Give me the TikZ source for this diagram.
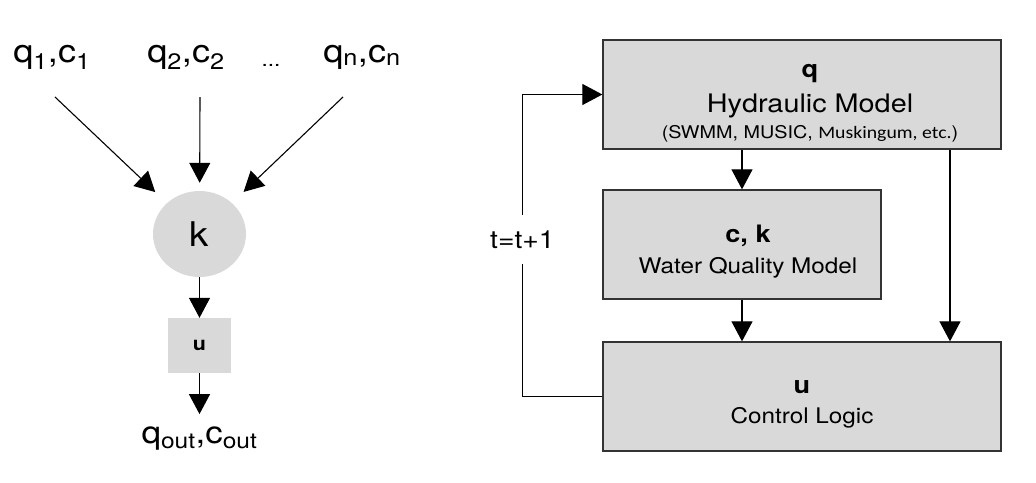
\documentclass[tikz,border=0pt]{standalone}
\usepackage{fontspec}
\setmainfont{TeX Gyre Heros}[FakeStretch=1.13]
\newfontfamily\calfont{Carlito}[FakeStretch=1.13]
\usetikzlibrary{arrows.meta,shapes.geometric}
\definecolor{boxgray}{HTML}{D9D9D9}
\begin{document}
\begin{tikzpicture}[x=1pt,y=-1pt,
  arr/.style={-{Triangle[length=20pt,width=21pt]},line width=1.1pt},
  modelbox/.style={draw=black!80,line width=1.3pt,fill=boxgray,inner sep=0pt},
  inlab/.style={anchor=base,inner sep=0pt,font=\fontsize{32}{38}\selectfont},
  boxtxt/.style={anchor=base,inner sep=0pt}]
\useasboundingbox (0,0) rectangle (1036,482);
\pgfmathsetmacro{\kcx}{199.5}
\pgfmathsetmacro{\rowy}{97}
% single reach: mixing node and control
\node[ellipse,fill=boxgray,minimum width=93pt,minimum height=86pt,inner sep=0pt,font=\fontsize{34}{40}\selectfont](k)at(\kcx,234){k};
\node[fill=boxgray,minimum width=63pt,minimum height=55pt,inner sep=0pt,font=\fontsize{19}{23}\bfseries](u)at(\kcx,345.5){u};
\node[anchor=base,inner xsep=0pt,inner ysep=12pt,font=\fontsize{31}{37}\selectfont](out)at(\kcx,443){q\textsubscript{out},c\textsubscript{out}};
\foreach \i/\lx/\sx/\sh/\lb in {1/52/55/16/{q\textsubscript{1},c\textsubscript{1}},2/186/200/8/{q\textsubscript{2},c\textsubscript{2}},3/362/343/16/{q\textsubscript{n},c\textsubscript{n}}}{\node[inlab](in\i)at(\lx,62){\lb};\coordinate(s\i)at(\sx,\rowy);\draw[arr,shorten >=\sh pt](s\i)--(k);}
\node[anchor=base,inner sep=0pt,font=\fontsize{20}{24}\selectfont](dots)at(271,66){...};
\draw[arr](k)--(u);
\draw[arr](u)--(out.north);
% simulation loop
\node[modelbox,minimum width=398pt,minimum height=109pt](hyd)at(802,94.5){};
\node[modelbox,minimum width=278pt,minimum height=109pt](wq)at(742,244.5){};
\node[modelbox,minimum width=398pt,minimum height=109pt](ctl)at(802,396.5){};
\node[boxtxt,font=\fontsize{24}{28}\bfseries](hydq)at(810,77){q};
\node[boxtxt,font=\fontsize{25.5}{30}\selectfont](hydt)at(810,112){Hydraulic Model};
\node[boxtxt,font=\fontsize{17.5}{21}\selectfont](hyds)at(810,138){(SWMM, MUSIC, {\calfont Muskingum, etc.})};
\node[boxtxt,font=\fontsize{24}{28}\bfseries](wqv)at(748,242){c, k};
\node[boxtxt,font=\fontsize{21.5}{26}\selectfont](wqt)at(748,273){Water Quality Model};
\node[boxtxt,font=\fontsize{24}{28}\bfseries](ctlv)at(802,393){u};
\node[boxtxt,font=\fontsize{21.5}{26}\selectfont](ctlt)at(802,423){Control Logic};
\draw[arr](hyd.south -| wq.north)--(wq.north);
\draw[arr](wq.south)--(wq.south |- ctl.north);
\draw[arr]([xshift=148pt]hyd.south)--([xshift=148pt]hyd.south |- ctl.north);
\draw[arr](ctl.west)--++(-80,0)--node[pos=0.52,fill=white,inner xsep=2pt,inner ysep=16pt,font=\fontsize{25}{30}\selectfont](tstep){t=t+1}++(0,-302)--(hyd.west);
\end{tikzpicture}
\end{document}
